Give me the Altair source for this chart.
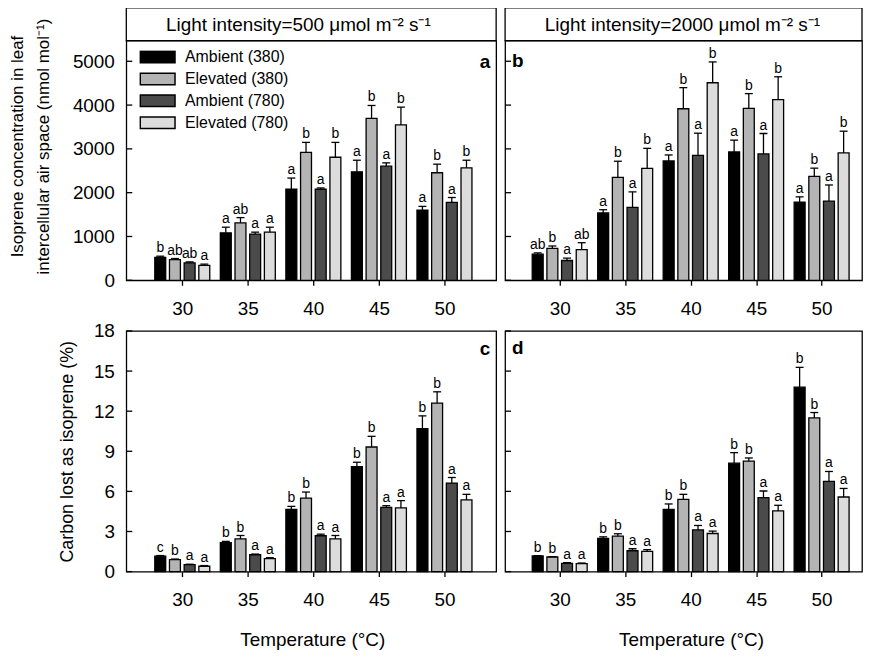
import altair as alt
import pandas as pd

FONT = "Liberation Sans"

temps = [30, 35, 40, 45, 50]
series = ["Ambient (380)", "Elevated (380)", "Ambient (780)", "Elevated (780)"]
fills = ["#000000", "#b4b4b4", "#4b4b4b", "#dcdcdc"]

# Panel a: isoprene (nmol mol-1), light 500
a_mean = [[520, 1084, 2078, 2477, 1604],
          [474, 1310, 2922, 3697, 2455],
          [399, 1054, 2078, 2605, 1777],
          [339, 1099, 2809, 3547, 2568]]
a_err = [[30, 128, 256, 264, 83],
         [23, 121, 226, 294, 196],
         [21, 45, 30, 76, 113],
         [30, 113, 339, 406, 173]]
a_let = [["b", "a", "a", "a", "a"],
         ["ab", "ab", "b", "b", "b"],
         ["ab", "a", "a", "a", "a"],
         ["a", "a", "b", "b", "b"]]

# Panel b: isoprene, light 2000
b_mean = [[595, 1536, 2726, 2929, 1785],
          [730, 2349, 3916, 3923, 2372],
          [452, 1664, 2854, 2884, 1807],
          [700, 2553, 4510, 4126, 2907]]
b_err = [[30, 75, 135, 271, 120],
         [53, 369, 482, 339, 188],
         [53, 354, 504, 467, 369],
         [158, 459, 475, 520, 497]]
b_let = [["ab", "a", "a", "a", "a"],
         ["b", "b", "b", "b", "b"],
         ["a", "a", "a", "a", "a"],
         ["ab", "b", "b", "b", "b"]]

# Panel c: carbon lost (%), light 500
c_mean = [[1.15, 2.16, 4.66, 7.86, 10.70],
          [0.89, 2.45, 5.50, 9.32, 12.60],
          [0.52, 1.26, 2.68, 4.81, 6.62],
          [0.40, 0.97, 2.45, 4.76, 5.36]]
c_err = [[0.05, 0.10, 0.22, 0.32, 0.95],
         [0.05, 0.25, 0.45, 0.80, 0.85],
         [0.03, 0.05, 0.12, 0.12, 0.42],
         [0.05, 0.07, 0.25, 0.55, 0.42]]
c_let = [["c", "b", "b", "b", "b"],
         ["b", "b", "b", "b", "b"],
         ["a", "a", "a", "a", "a"],
         ["a", "a", "a", "a", "a"]]

# Panel d: carbon lost (%), light 2000
d_mean = [[1.17, 2.48, 4.66, 8.11, 13.80],
          [1.09, 2.65, 5.41, 8.26, 11.50],
          [0.62, 1.56, 3.12, 5.53, 6.75],
          [0.60, 1.51, 2.85, 4.54, 5.58]]
d_err = [[0.03, 0.12, 0.40, 0.79, 1.48],
         [0.03, 0.18, 0.37, 0.24, 0.40],
         [0.05, 0.15, 0.33, 0.50, 0.74],
         [0.04, 0.13, 0.18, 0.42, 0.64]]
d_let = [["b", "b", "b", "b", "b"],
         ["b", "b", "b", "b", "b"],
         ["a", "a", "a", "a", "a"],
         ["a", "a", "a", "a", "a"]]

iso_ticks = [0, 1000, 2000, 3000, 4000, 5000]
cl_ticks = [0, 3, 6, 9, 12, 15, 18]

hdr_a = "Light intensity=500 \u03bcmol m\u207b\u00b2 s\u207b\u00b9"
hdr_b = "Light intensity=2000 \u03bcmol m\u207b\u00b2 s\u207b\u00b9"
ytitle_top = ["Isoprene concentration in leaf", "intercellular air space (nmol mol\u207b\u00b9)"]
ytitle_bot = "Carbon lost as isoprene (%)"
xtitle = "Temperature (\u00b0C)"


def long_df(mean, err, letters):
    rows = []
    for i, s in enumerate(series):
        for j, t in enumerate(temps):
            rows.append({"temp": t, "series": s, "idx": i,
                         "mean": mean[i][j], "top": mean[i][j] + err[i][j],
                         "letter": letters[i][j]})
    return pd.DataFrame(rows)


def panel(df, ydom, yticks, xdom, width, height, tag, tag_right, tag_y,
          header=None, ytitle=None, ytitle_pad=0, ytitle_y=None, ytitle_size=18,
          show_xtitle=False, legend=False):
    xscale = alt.Scale(domain=xdom, nice=False, zero=False)
    yscale = alt.Scale(domain=ydom, nice=False, zero=False)
    xkw = dict(values=temps, format="d", tickSize=5, tickWidth=1.3, tickColor="black",
               domain=False, grid=False, labelFontSize=19, labelPadding=14,
               labelColor="black", labelFont=FONT)
    if show_xtitle:
        xkw.update(title=xtitle, titleFontSize=19, titleFontWeight="normal",
                   titlePadding=21, titleColor="black", titleFont=FONT, titleX=187)
    else:
        xkw.update(title=None)
    xaxis = alt.Axis(**xkw)
    if ytitle is not None:
        ykw = dict(values=yticks, format="d", ticks=False, tickSize=0, domain=False,
                   grid=False, labelFontSize=19, labelPadding=12, labelColor="black",
                   labelFont=FONT, title=ytitle, titleFontSize=ytitle_size,
                   titleFontWeight="normal", titlePadding=ytitle_pad,
                   titleLineHeight=26, titleColor="black", titleFont=FONT)
        if ytitle_y is not None:
            ykw["titleY"] = ytitle_y
        yaxis = alt.Axis(**ykw)
    else:
        yaxis = None

    X = alt.X("xpos:Q", scale=xscale, axis=xaxis)

    if legend:
        leg = alt.Legend(orient="none", legendX=13, legendY=9.5, title=None,
                         symbolType="M-1,-0.33L1,-0.33L1,0.33L-1,0.33Z",
                         symbolSize=1225, symbolStrokeColor="black",
                         symbolStrokeWidth=1.5, labelFontSize=16, labelOffset=9,
                         clipHeight=14, rowPadding=6, padding=0,
                         labelColor="black", labelFont=FONT, symbolOpacity=1)
    else:
        leg = None

    base = alt.Chart(df).transform_calculate(
        xpos="datum.temp + (datum.idx - 1.5) * 1.12")

    bars = base.mark_bar(size=11, stroke="black", strokeWidth=1.3, opacity=1).encode(
        x=X,
        y=alt.Y("mean:Q", scale=yscale, axis=yaxis),
        fill=alt.Fill("series:N", scale=alt.Scale(domain=series, range=fills),
                      legend=leg, sort=series),
    )
    errs = base.mark_rule(color="black", strokeWidth=1.3).encode(
        x=X, y=alt.Y("mean:Q", scale=yscale, axis=yaxis), y2="top:Q")
    caps = base.mark_tick(color="black", orient="horizontal", size=8,
                          thickness=1.3, opacity=1).encode(
        x=X, y=alt.Y("top:Q", scale=yscale, axis=yaxis))
    lets = base.mark_text(fontSize=14, baseline="alphabetic", dy=-4,
                          color="black", font=FONT).encode(
        x=X, y=alt.Y("top:Q", scale=yscale, axis=yaxis), text="letter:N")
    yt = alt.Chart(pd.DataFrame({"v": yticks})).mark_rule(
        color="black", strokeWidth=1.3).encode(
        x=alt.value(0), x2=alt.value(6), y=alt.Y("v:Q", scale=yscale, axis=yaxis))
    if tag_right:
        tg = alt.Chart(pd.DataFrame({"tag": [tag]})).mark_text(
            fontSize=19, fontWeight="bold", align="right", baseline="middle",
            color="black", font=FONT).encode(
            x=alt.value(width - 6), y=alt.value(tag_y), text="tag:N")
    else:
        tg = alt.Chart(pd.DataFrame({"tag": [tag]})).mark_text(
            fontSize=19, fontWeight="bold", align="left", baseline="middle",
            color="black", font=FONT).encode(
            x=alt.value(7), y=alt.value(tag_y), text="tag:N")

    layers = []
    if header is not None:
        hd = pd.DataFrame({"h": [header]})
        box = alt.Chart(hd).mark_rect(fill="white", stroke="black", strokeWidth=1.3).encode(
            x=alt.value(0), x2=alt.value(width), y=alt.value(-33), y2=alt.value(0))
        htxt = alt.Chart(hd).mark_text(fontSize=19, align="left", baseline="middle",
                                       color="black", font=FONT).encode(
            x=alt.value(40), y=alt.value(-16), text="h:N")
        layers += [box, htxt]
    layers += [bars, errs, caps, lets, yt, tg]
    return alt.layer(*layers).properties(width=width, height=height)


WA, WB = 372, 359
xdom_a = [26.11, 26.11 + WA / 13.55]
xdom_b = [26.21, 26.21 + WB / 13.55]

pa = panel(long_df(a_mean, a_err, a_let), [0, 5470], iso_ticks, xdom_a, WA, 241,
           "a", True, 21, header=hdr_a, ytitle=ytitle_top, ytitle_pad=20,
           ytitle_y=106, ytitle_size=17, legend=True)
pb = panel(long_df(b_mean, b_err, b_let), [0, 5470], iso_ticks, xdom_b, WB, 241,
           "b", False, 20, header=hdr_b)
pc = panel(long_df(c_mean, c_err, c_let), [0, 18], cl_ticks, xdom_a, WA, 242,
           "c", True, 18, ytitle=ytitle_bot, ytitle_pad=17, show_xtitle=True)
pd_ = panel(long_df(d_mean, d_err, d_let), [0, 18], cl_ticks, xdom_b, WB, 242,
            "d", False, 17, show_xtitle=True)

chart = alt.concat(pa, pb, pc, pd_, columns=2,
                   spacing={"row": 2, "column": 5}).resolve_scale(
    x="independent", y="independent"
).resolve_legend(fill="independent").properties(
    padding={"left": 0, "top": -4, "right": 0, "bottom": 0}
).configure(font=FONT).configure_view(stroke="black", strokeWidth=1.3)

chart.save("out.html", embed_options={"renderer": "svg", "actions": False})
